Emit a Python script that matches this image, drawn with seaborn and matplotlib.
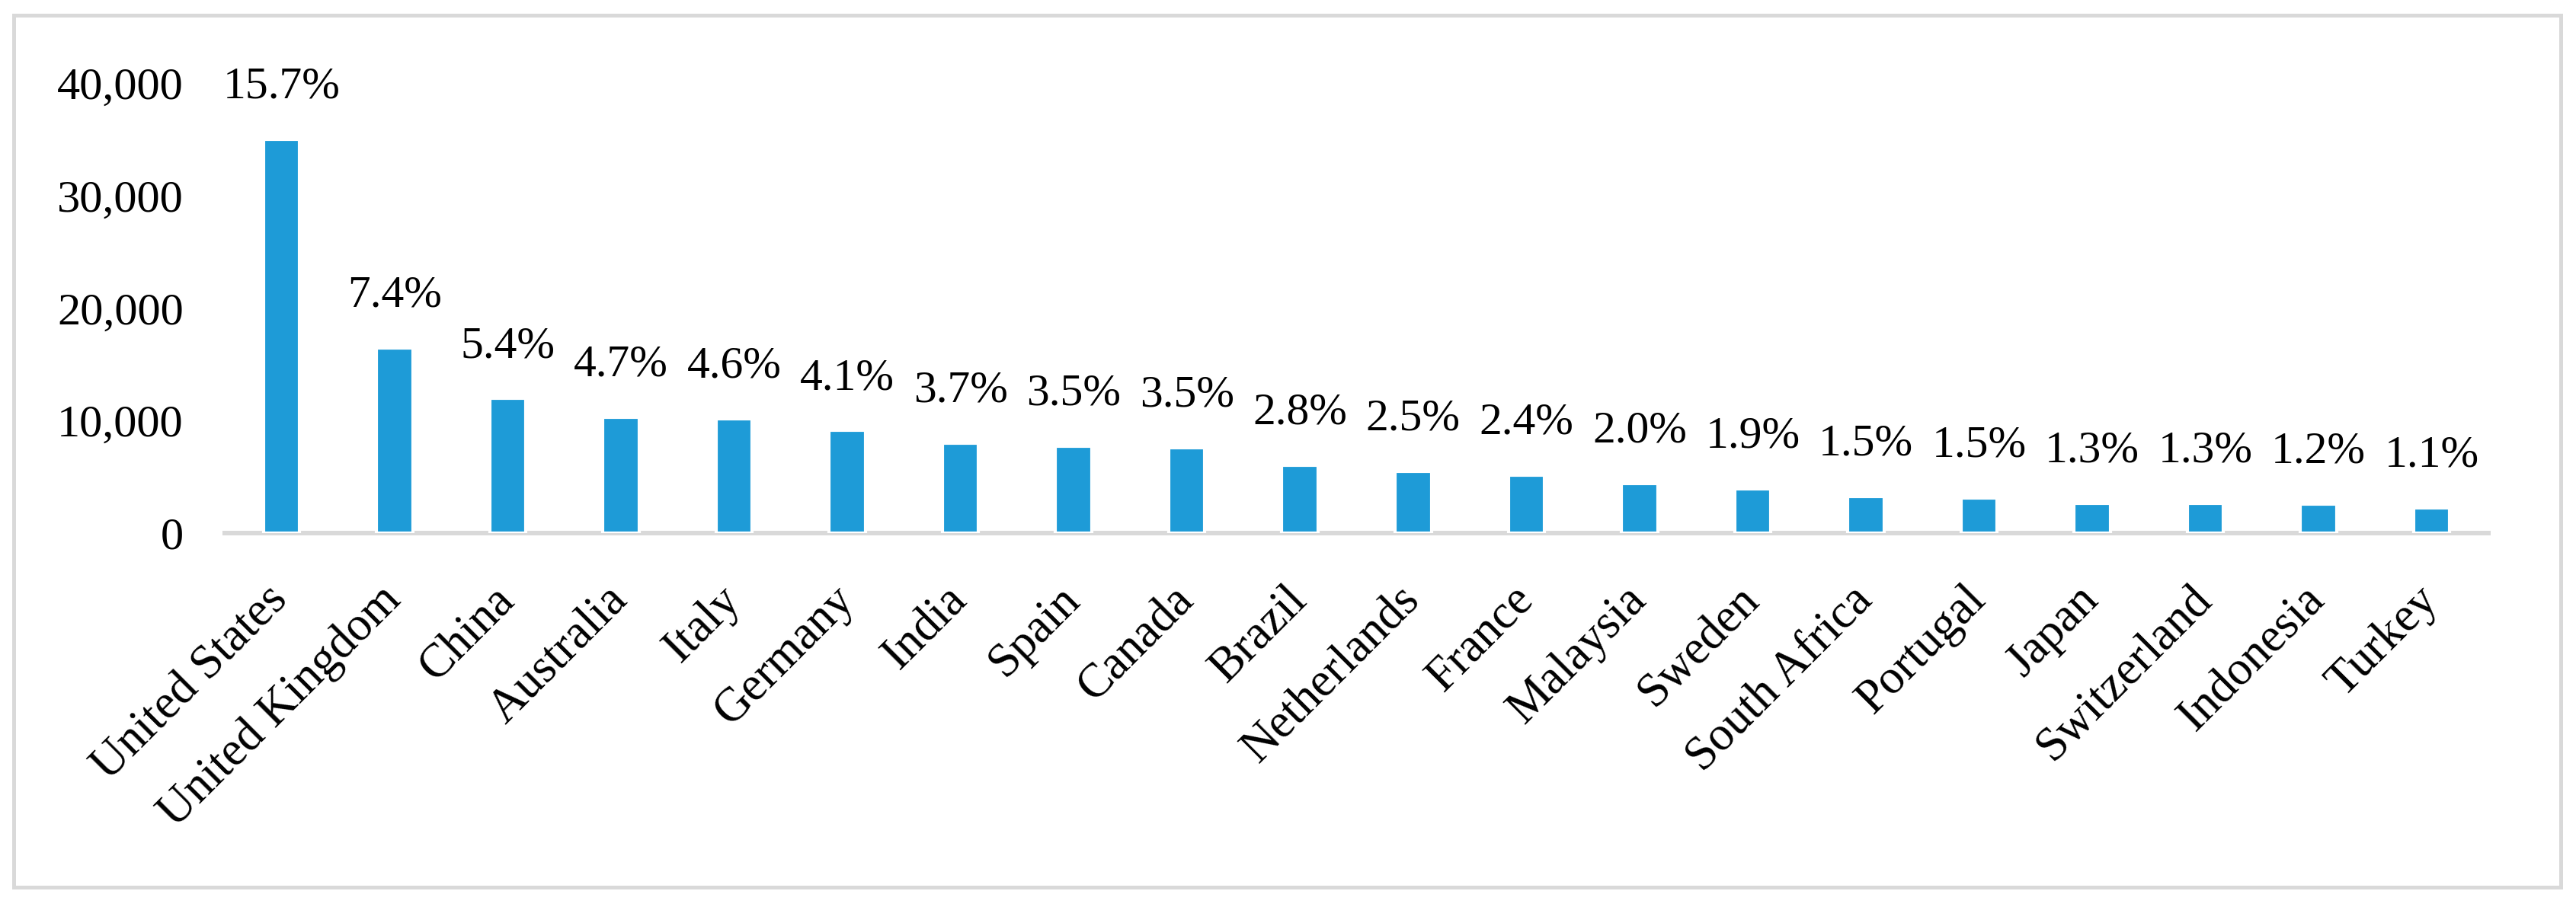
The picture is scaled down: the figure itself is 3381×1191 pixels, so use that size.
import matplotlib
matplotlib.use("Agg")
import matplotlib.pyplot as plt
import seaborn as sns
import pandas as pd
from matplotlib.patches import Rectangle
from matplotlib.ticker import FuncFormatter

countries = ["United States", "United Kingdom", "China", "Australia", "Italy", "Germany",
             "India", "Spain", "Canada", "Brazil", "Netherlands", "France", "Malaysia",
             "Sweden", "South Africa", "Portugal", "Japan", "Switzerland", "Indonesia", "Turkey"]
values = [35060, 16470, 11980, 10320, 10190, 9120, 8020, 7750, 7610, 6050, 5510, 5170,
          4420, 3940, 3260, 3130, 2650, 2650, 2580, 2240]
shares = ["15.7%", "7.4%", "5.4%", "4.7%", "4.6%", "4.1%", "3.7%", "3.5%", "3.5%", "2.8%",
          "2.5%", "2.4%", "2.0%", "1.9%", "1.5%", "1.5%", "1.3%", "1.3%", "1.2%", "1.1%"]
y_ticks = [0, 10000, 20000, 30000, 40000]

sns.set_theme(style="white")
plt.rcParams["font.family"] = ["Liberation Serif", "DejaVu Serif"]

W, H = 3381, 1191
fig = plt.figure(figsize=(W / 300, H / 300), dpi=300)
ax = fig.add_axes([295 / W, (H - 700) / H, (3266 - 295) / W, (700 - 109.6) / H])

df = pd.DataFrame({"country": countries, "value": values})
sns.barplot(data=df, x="country", y="value", color="#1e9bd7", saturation=1,
            width=0.32, ax=ax, zorder=3)

ax.set_xlim(-0.5, len(countries) - 0.5)
ax.set_ylim(0, 40000)
ax.set_yticks(y_ticks)
ax.yaxis.set_major_formatter(FuncFormatter(lambda v, p: f"{v:,.0f}"))
ax.set_xlabel("")
ax.set_ylabel("")

for s in ["top", "right", "left"]:
    ax.spines[s].set_visible(False)
ax.spines["bottom"].set_color("#d9d9d9")
ax.spines["bottom"].set_linewidth(1.45)
ax.spines["bottom"].set_zorder(2)

ax.tick_params(axis="y", length=0, pad=13, labelsize=14.5, labelcolor="black")
ax.tick_params(axis="x", length=0, pad=19, labelsize=15, labelcolor="black")
plt.setp(ax.get_xticklabels(), rotation=45, ha="right", va="center", rotation_mode="anchor")

for i, (v, s) in enumerate(zip(values, shares)):
    ax.annotate(s, xy=(i, v), xytext=(0, 13), textcoords="offset points",
                ha="center", va="baseline", fontsize=14.3, color="black")

fig.patches.append(Rectangle((18 / W, (H - 1165) / H), (3361 - 18) / W, (1165 - 20) / H,
                             transform=fig.transFigure, fill=False,
                             edgecolor="#d9d9d9", linewidth=1.2))

fig.savefig("out.png", dpi=300, facecolor="white")
